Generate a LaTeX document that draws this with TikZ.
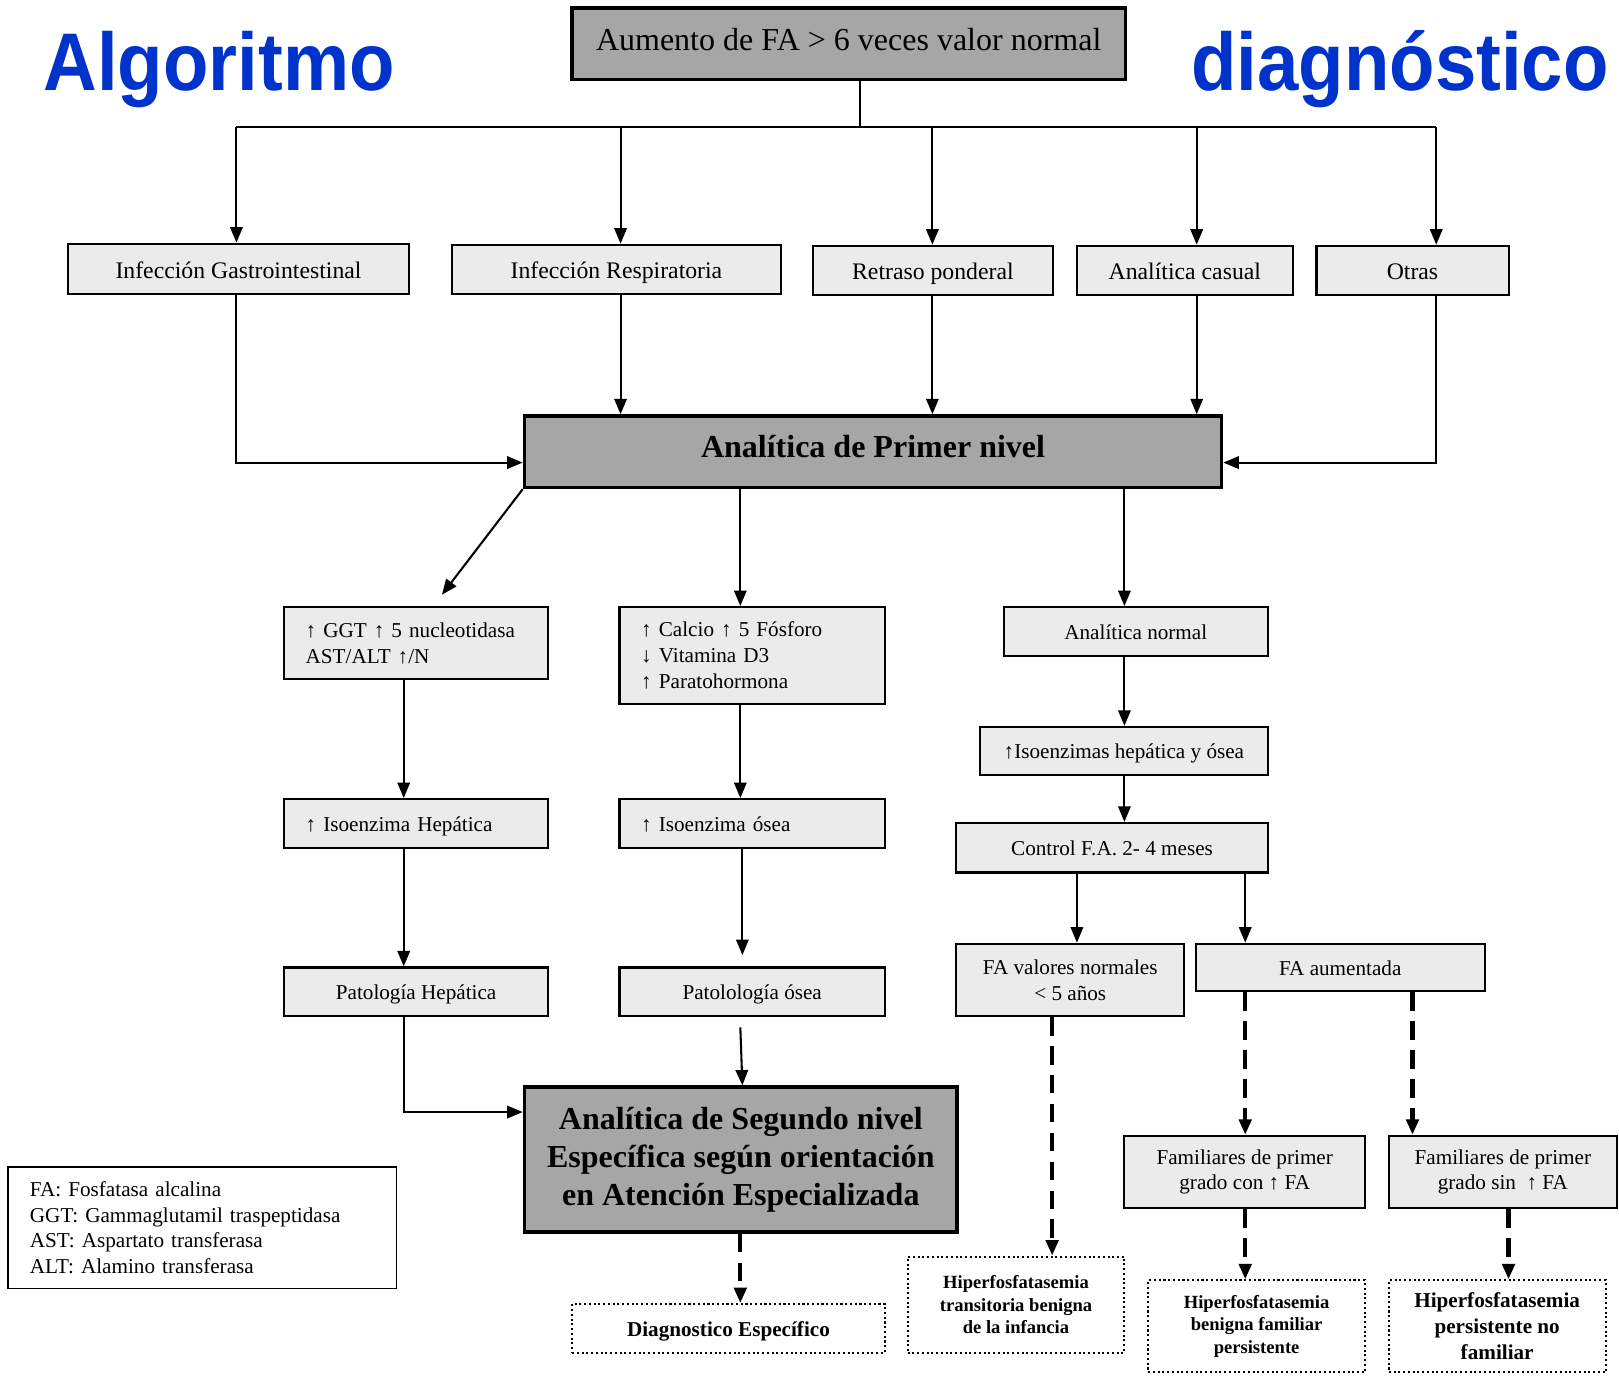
\documentclass[tikz,border=0pt]{standalone}
\usepackage{fontspec}
\setmainfont{Liberation Serif}
\newfontfamily\titlefont{Liberation Sans}
\usetikzlibrary{arrows.meta}
\definecolor{titleblue}{HTML}{0033CC}
\definecolor{darkbox}{HTML}{A6A6A6}
\definecolor{lightbox}{HTML}{EBEBEB}
\begin{document}
\begin{tikzpicture}[x=1pt,y=-1pt,
 lbox/.style={draw, fill=lightbox, line width=2pt, inner sep=0pt, align=center, font=\fontsize{20.5}{25}\selectfont},
 one/.style={text height=19pt, text depth=4pt},
 rowbox/.style={lbox, font=\fontsize{23}{23}\selectfont, text height=21pt, text depth=3pt},
 dbox/.style={draw, fill=darkbox, line width=3.5pt, inner sep=0pt, align=center},
 dotbox/.style={draw, line width=2pt, dash pattern=on 2pt off 2.6pt, fill=white, inner sep=0pt, align=center, font=\bfseries\fontsize{18}{21.5}\selectfont},
 sz/.style 2 args={minimum width=#1pt, minimum height=#2pt},
 ln/.style={line width=2pt},
 arr/.style={line width=2pt, -{Triangle[length=15pt,width=12pt]}},
 darr/.style={line width=4pt, dash pattern=on 18pt off 10pt, -{Triangle[length=15pt,width=12pt]}},
 ttl/.style={inner sep=0pt, text=titleblue, font=\titlefont\bfseries\fontsize{72}{72}\selectfont},
]
\useasboundingbox (0,0) rectangle (1568,1333);

% titles
\node[ttl, anchor=base west] (t1) at (42,88) {\scalebox{1}[1.1]{Algoritmo}};
\node[ttl, anchor=base east] (t2) at (1558,88) {\scalebox{1}[1.1]{diagnóstico}};

% top
\node[dbox, sz={536}{69}, text height=20pt, text depth=8pt, font=\fontsize{31}{31}\selectfont] (top) at (822,42.5) {Aumento de FA > 6 veces valor normal};

% row 1
\node[rowbox, sz={330}{49}] (gi) at (231,260.5) {Infección Gastrointestinal};
\node[rowbox, sz={318}{48}] (ir) at (597,261) {Infección Respiratoria};
\node[rowbox, sz={233}{48}] (rp) at (903.5,262) {Retraso ponderal};
\node[rowbox, sz={209}{48}] (ac) at (1147.5,262) {Analítica casual};
\node[rowbox, sz={186}{48}] (ot) at (1368,262) {Otras};

% primer nivel
\node[dbox, sz={675}{69}, text height=19pt, text depth=8pt, font=\bfseries\fontsize{31}{31}\selectfont] (pn) at (845.5,437.5) {Analítica de Primer nivel};

% left column
\node[lbox, text width=214pt, inner xsep=21pt, minimum height=70pt, align=left] (ggt) at (403,623) {↑ GGT ↑ 5 nucleotidasa\\AST/ALT ↑/N};
\node[lbox, one, text width=214pt, inner xsep=21pt, minimum height=47pt, align=left] (ih) at (403,797.5) {↑ Isoenzima Hepática};
\node[lbox, one, sz={256}{47}] (ph) at (403,960.5) {Patología Hepática};

% middle column
\node[lbox, text width=215pt, inner xsep=21pt, minimum height=94pt, align=left] (ca) at (728.5,635) {↑ Calcio ↑ 5 Fósforo\\↓ Vitamina D3\\↑ Paratohormona};
\node[lbox, one, text width=215pt, inner xsep=21pt, minimum height=47pt, align=left] (io) at (728.5,797.5) {↑ Isoenzima ósea};
\node[lbox, one, sz={257}{47}] (po) at (728.5,960.5) {Patolología ósea};

% segundo nivel
\node[dbox, sz={419}{140}, font=\bfseries\fontsize{31}{37}\selectfont] (sn) at (717.5,1123) {Analítica de Segundo nivel\\Específica según orientación\\en Atención Especializada};
\node[dotbox, one, sz={303}{47}, font=\bfseries\fontsize{20.5}{25}\selectfont] (de) at (705.5,1286.5) {Diagnostico Específico};

% right column
\node[lbox, one, sz={256}{47}] (an) at (1100,611.5) {Analítica normal};
\node[lbox, one, sz={279}{47}] (iso) at (1088.5,727.5) {↑Isoenzimas hepática y ósea};
\node[lbox, one, sz={302}{48}] (ctl) at (1077,821) {Control F.A. 2- 4 meses};
\node[lbox, sz={221}{70}] (fan) at (1036.5,949) {FA valores normales\\< 5 años};
\node[lbox, one, sz={280}{46}] (fau) at (1298,937) {FA aumentada};
\node[lbox, sz={233}{70}, font=\fontsize{20.5}{24}\selectfont] (fc) at (1205.5,1135) {Familiares de primer\\grado con ↑ FA};
\node[lbox, sz={221}{70}, font=\fontsize{20.5}{24}\selectfont] (fs) at (1455.5,1135) {Familiares de primer\\grado sin \ ↑ FA};
\node[dotbox, sz={210}{93}] (ht) at (984,1263.5) {Hiperfosfatasemia\\transitoria benigna\\de la infancia};
\node[dotbox, sz={210}{89}, font=\bfseries\fontsize{18}{22}\selectfont] (hb) at (1217,1284.5) {Hiperfosfatasemia\\benigna familiar\\persistente};
\node[dotbox, sz={210}{89}, font=\bfseries\fontsize{20.5}{25}\selectfont] (hp) at (1450,1284.5) {Hiperfosfatasemia\\persistente no\\familiar};

% legend
\node[draw, line width=1.5pt, fill=white, text width=334pt, inner xsep=21pt, inner ysep=0pt, minimum height=118pt, align=left, font=\fontsize{20.5}{25}\selectfont] (leg) at (196,1189) {FA: Fosfatasa alcalina\\GGT: Gammaglutamil traspeptidasa\\AST: Aspartato transferasa\\ALT: Alamino transferasa};

% connectors
\coordinate (j) at (833,123);
\coordinate (b1) at (229,123);
\coordinate (b2) at (601,123);
\coordinate (b3) at (903,123);
\coordinate (b4) at (1159,123);
\coordinate (b5) at (1391,123);
\draw[ln] (j |- top.south) -- (j);
\draw[ln] (b1) -- (b5);
\foreach \b/\n in {b1/gi,b2/ir,b3/rp,b4/ac,b5/ot} \draw[arr] (\b) -- (\b |- \n.north);
\coordinate (jl) at (229,448);
\coordinate (jr) at (1391,448);
\draw[arr] (b1 |- gi.south) -- (jl) -- (jl -| pn.west);
\draw[arr] (b5 |- ot.south) -- (jr) -- (jr -| pn.east);
\draw[arr] (b2 |- ir.south) -- (b2 |- pn.north);
\draw[arr] (b3 |- rp.south) -- (b3 |- pn.north);
\draw[arr] (b4 |- ac.south) -- (b4 |- pn.north);

\coordinate (d1) at (428,576);
\draw[arr] (pn.south west) -- (d1);
\coordinate (c1) at (391,0);
\coordinate (c2) at (717,0);
\coordinate (c3) at (1089,0);
\draw[arr] (c2 |- pn.south) -- (c2 |- ca.north);
\draw[arr] (c3 |- pn.south) -- (c3 |- an.north);
\draw[arr] (c3 |- an.south) -- (c3 |- iso.north);
\draw[arr] (c3 |- iso.south) -- (c3 |- ctl.north);
\draw[arr] (c1 |- ggt.south) -- (c1 |- ih.north);
\draw[arr] (c1 |- ih.south) -- (c1 |- ph.north);
\coordinate (jp) at (391,1077);
\draw[arr] (c1 |- ph.south) -- (jp) -- (jp -| sn.west);
\draw[arr] (c2 |- ca.south) -- (c2 |- io.north);
\coordinate (e1) at (719,925);
\draw[arr] (e1 |- io.south) -- (e1);
\coordinate (e2) at (717,995);
\coordinate (e3) at (719,0);
\draw[arr] (e2) -- (e3 |- sn.north);
\draw[darr] (c2 |- sn.south) -- (c2 |- de.north);

\coordinate (c4) at (1043,0);
\coordinate (c5) at (1206,0);
\coordinate (c6) at (1019,0);
\coordinate (c7) at (1368,0);
\coordinate (c8) at (1461,0);
\draw[arr] (c4 |- ctl.south) -- (c4 |- fan.north);
\draw[arr] (c5 |- ctl.south) -- (c5 |- fau.north);
\draw[darr] (c6 |- fan.south) -- (c6 |- ht.north);
\draw[darr] (c5 |- fau.south) -- (c5 |- fc.north);
\draw[darr] (c7 |- fau.south) -- (c7 |- fs.north);
\draw[darr] (c5 |- fc.south) -- (c5 |- hb.north);
\draw[darr] (c8 |- fs.south) -- (c8 |- hp.north);
\end{tikzpicture}
\end{document}
